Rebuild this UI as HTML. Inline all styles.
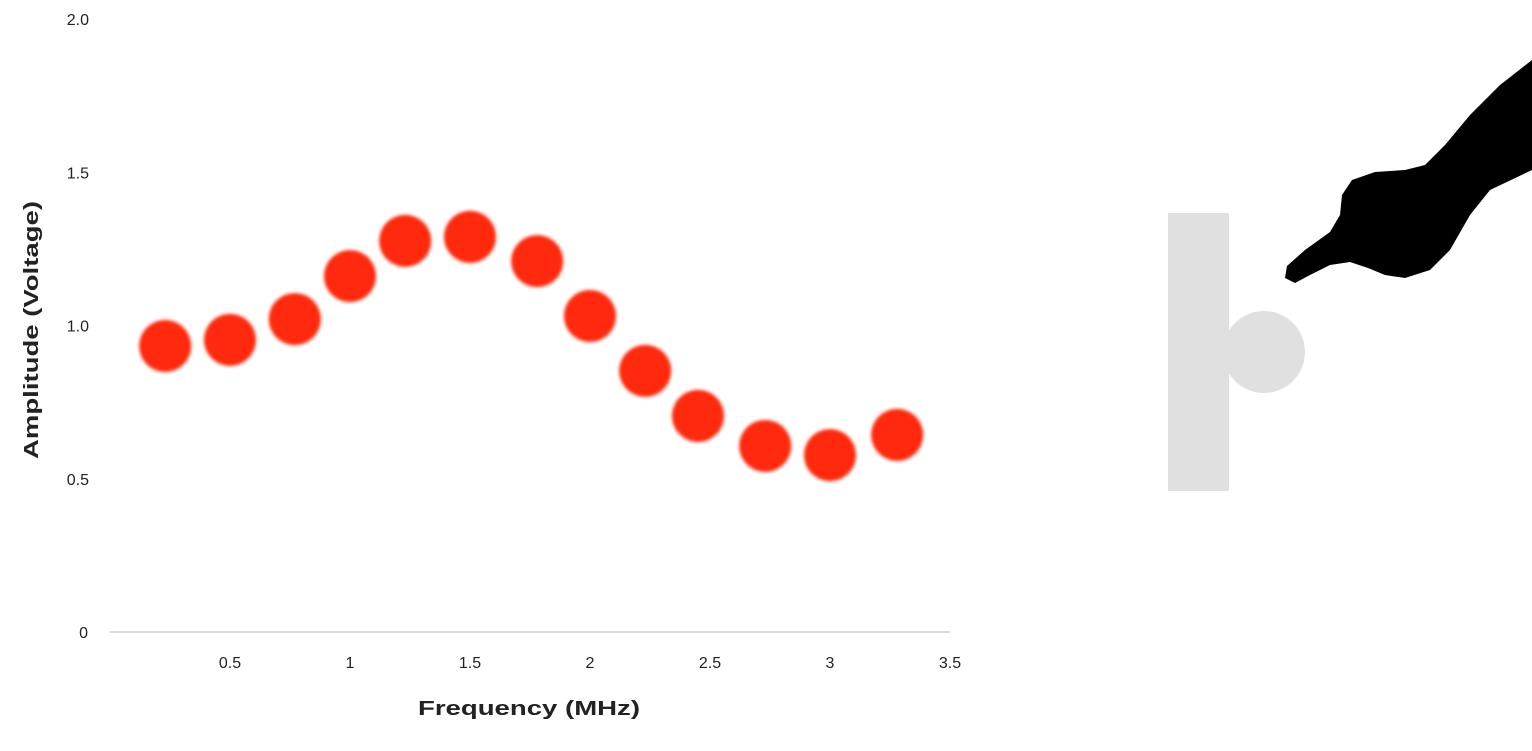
<!DOCTYPE html>
<html><head><meta charset="utf-8"><style>
html,body{margin:0;padding:0;background:#fff;width:1532px;height:751px;overflow:hidden}
text{font-family:"Liberation Sans",sans-serif}
</style></head><body>
<svg id="chart" width="1532" height="751" viewBox="0 0 1532 751">
<defs><filter id="blur" x="-30%" y="-30%" width="160%" height="160%"><feGaussianBlur stdDeviation="1.6"/></filter></defs>
<line x1="110" y1="632" x2="950" y2="632" stroke="#cfcfcf" stroke-width="1.5"/>
<g id="yticks"></g>
<g id="xticks"></g>
<text transform="translate(38,330) rotate(-90)" text-anchor="middle" font-size="20" font-weight="bold" fill="#222" textLength="258" lengthAdjust="spacingAndGlyphs">Amplitude (Voltage)</text>
<text x="529" y="715" text-anchor="middle" font-size="20" font-weight="bold" fill="#222" textLength="222" lengthAdjust="spacingAndGlyphs">Frequency (MHz)</text>
<g id="dots"></g>
<g>
<rect x="1168" y="213" width="61" height="278" fill="#e0e0e0"/>
<circle cx="1264" cy="352" r="41" fill="#e0e0e0"/>
</g>
<path fill="#000" d="M1532,60 L1532,170 L1490,190 L1470,215 L1450,250 L1430,270 L1405,278 L1385,275 L1368,268 L1350,262 L1330,265 L1310,275 L1295,283 L1285,278 L1287,266 L1305,250 L1330,232 L1340,215 L1342,195 L1352,180 L1375,172 L1405,170 L1425,165 L1445,145 L1470,115 L1500,85 Z"/>
</svg>
<script>
const yTicks=[0,0.5,1.0,1.5,2.0];
const yTickLabels=["0","0.5","1.0","1.5","2.0"];
const xTicks=[0.5,1,1.5,2,2.5,3,3.5];
const xTickLabels=["0.5","1","1.5","2","2.5","3","3.5"];
const freq=[0.23,0.5,0.77,1.0,1.23,1.5,1.78,2.0,2.23,2.45,2.73,3.0,3.28];
const amp=[0.933,0.953,1.021,1.161,1.276,1.289,1.21,1.031,0.852,0.705,0.607,0.577,0.643];
const NS="http://www.w3.org/2000/svg";
function sx(v){return 110+v*240;}
function sy(v){return 632-v*306.5;}
const yg=document.getElementById('yticks'),xg=document.getElementById('xticks'),dg=document.getElementById('dots');
yTicks.forEach((v,i)=>{const t=document.createElementNS(NS,'text');


t.setAttribute('x',v===0?88:89);t.setAttribute('y',sy(v)+6);t.setAttribute('text-anchor','end');t.setAttribute('font-size','16');t.setAttribute('fill','#222');t.textContent=yTickLabels[i];yg.appendChild(t);});
xTicks.forEach((v,i)=>{const t=document.createElementNS(NS,'text');


t.setAttribute('x',sx(v));t.setAttribute('y',668);t.setAttribute('text-anchor','middle');t.setAttribute('font-size','16');t.setAttribute('fill','#222');t.textContent=xTickLabels[i];xg.appendChild(t);});
freq.forEach((f,i)=>{const c=document.createElementNS(NS,'circle');


c.setAttribute('cx',sx(f));c.setAttribute('cy',sy(amp[i]));c.setAttribute('r',26);c.setAttribute('fill','#ff2a0a');c.setAttribute('filter','url(#blur)');dg.appendChild(c);});
</script>
</body></html>
